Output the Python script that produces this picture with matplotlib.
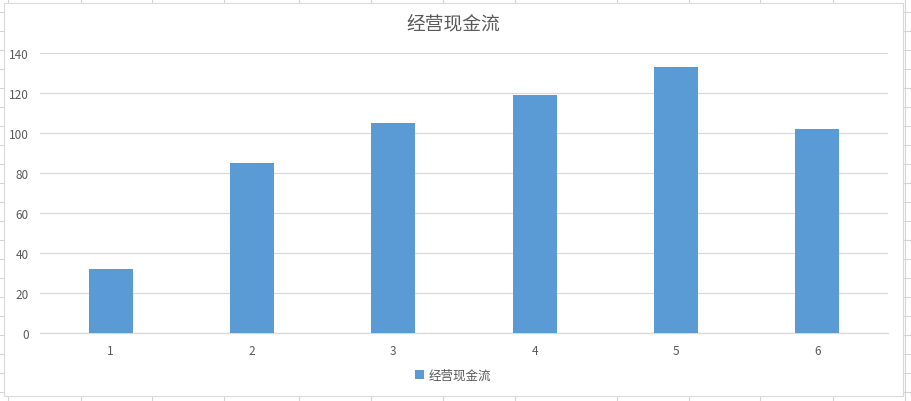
import matplotlib
matplotlib.use("Agg")
import matplotlib.pyplot as plt
from matplotlib.patches import Rectangle
from matplotlib.lines import Line2D

plt.rcParams['font.family'] = ['Noto Sans CJK SC', 'DejaVu Sans']

# data
categories = ['1', '2', '3', '4', '5', '6']
cash_flow = [32, 85, 105, 119, 133, 102]
series_name = '经营现金流'
y_ticks = [0, 20, 40, 60, 80, 100, 120, 140]

W, H = 911, 402
BAR_COLOR = '#5B9BD5'
TEXT_COLOR = '#595959'
GRID_COLOR = '#D9D9D9'
SHEET_COLOR = '#D4D4D4'

fig = plt.figure(figsize=(W / 100, H / 100), dpi=100)
fig.patch.set_facecolor('white')


def px(x, y):
    """pixel coords (top-left origin) -> figure fraction"""
    return x / W, 1 - y / H


# spreadsheet cell lines behind the chart
col_x = [8, 81, 152, 224, 299, 371, 443, 515, 617, 689, 760, 833, 905]
for cx in col_x:
    fig.add_artist(Line2D([cx / W, cx / W], [0, 1], color=SHEET_COLOR, lw=0.8, zorder=0))
for k in range(22):
    ry = 13 + 19 * k
    fig.add_artist(Line2D([0, 1], [1 - ry / H, 1 - ry / H], color=SHEET_COLOR, lw=0.8, zorder=0))

# chart area
x0, y0 = px(4, 397)
x1, y1 = px(903, 4)
fig.add_artist(Rectangle((x0, y0), x1 - x0, y1 - y0, transform=fig.transFigure,
                         facecolor='white', edgecolor='#D9D9D9', lw=0.8, zorder=1))

# plot area
left, bottom = px(40, 333.8)
ax = fig.add_axes([left, bottom, 848 / W, 280 / H], zorder=2)
ax.set_facecolor('none')

xs = range(len(categories))
ax.bar(xs, cash_flow, width=0.31, color=BAR_COLOR, label=series_name, zorder=3)

ax.set_xlim(-0.5, len(categories) - 0.5)
ax.set_ylim(0, 140)
ax.set_yticks(y_ticks)
ax.set_xticks(list(xs))
ax.set_xticklabels(categories)
ax.yaxis.grid(True, color=GRID_COLOR, lw=0.9)
ax.set_axisbelow(True)
for s in ['top', 'right', 'left']:
    ax.spines[s].set_visible(False)
ax.spines['bottom'].set_color(GRID_COLOR)
ax.spines['bottom'].set_linewidth(0.9)
ax.tick_params(axis='both', length=0, labelsize=8.5, labelcolor=TEXT_COLOR)
ax.tick_params(axis='y', pad=8)
ax.tick_params(axis='x', pad=8)

tx, ty = px(453, 24)
fig.text(tx, ty, series_name, ha='center', va='center', fontsize=13.5, color=TEXT_COLOR, zorder=3)

lx, ly = px(453, 376)
fig.legend(loc='center', bbox_to_anchor=(lx, ly), frameon=False, fontsize=9,
           labelcolor=TEXT_COLOR, handlelength=0.7, handleheight=0.7, handletextpad=0.4)

fig.savefig('out.png', dpi=100, facecolor=fig.get_facecolor())
